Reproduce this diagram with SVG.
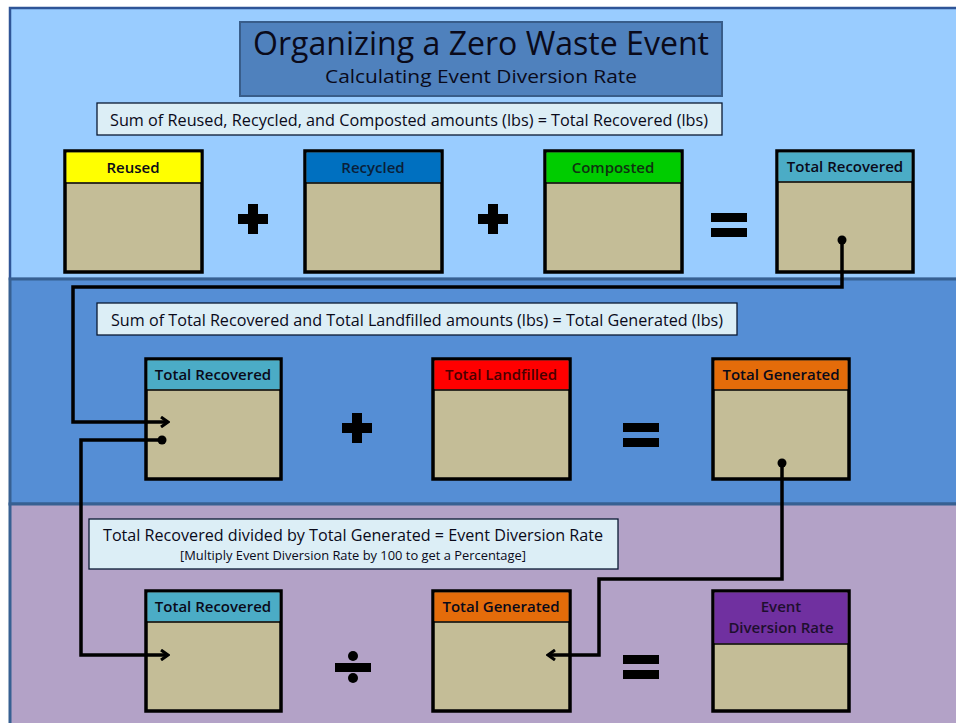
<svg xmlns="http://www.w3.org/2000/svg" width="956" height="723" viewBox="0 0 956 723">
<style>
text{font-family:"Open Sans","Liberation Sans",sans-serif;fill:#0a0a1a}
.hdr{font-size:15px;text-anchor:middle;font-weight:600}
.body{fill:#C4BD97;stroke:#000;stroke-width:3.5}
.cap{fill:#DCEEF6;stroke:#0a1a33;stroke-width:1.3}
.op{fill:#000}
.conn{fill:none;stroke:#000;stroke-width:3.5;stroke-linejoin:miter}
</style>
<defs>
<marker id="arr" markerWidth="10" markerHeight="12" refX="8" refY="6" orient="auto" markerUnits="userSpaceOnUse">
<path d="M1,1 L8,6 L1,11" fill="none" stroke="#000" stroke-width="3"/>
</marker>
</defs>
<rect x="0" y="0" width="956" height="723" fill="#ffffff"/>
<!-- bands -->
<rect x="10" y="8" width="950" height="271" fill="#99CCFF" stroke="#2F5597" stroke-width="2.5"/>
<rect x="10" y="279" width="950" height="225" fill="#558ED5" stroke="#376092" stroke-width="3"/>
<rect x="10" y="504" width="950" height="225" fill="#B3A2C7" stroke="#376092" stroke-width="3"/>
<!-- title -->
<g id="title">
<rect x="240" y="22" width="482" height="74" fill="#4F81BD" stroke="#385D8A" stroke-width="2"/>
<text x="481" y="55" font-size="32" text-anchor="middle" textLength="456" lengthAdjust="spacingAndGlyphs">Organizing a Zero Waste Event</text>
<text x="481" y="83" font-size="19" text-anchor="middle" textLength="312" lengthAdjust="spacingAndGlyphs">Calculating Event Diversion Rate</text>
</g>
<!-- captions -->
<g id="cap1">
<rect class="cap" x="97" y="103" width="625" height="32"/>
<text x="409" y="126" font-size="17" text-anchor="middle" textLength="598" lengthAdjust="spacingAndGlyphs">Sum of Reused, Recycled, and Composted amounts (lbs) = Total Recovered (lbs)</text>
</g>
<g id="cap2">
<rect class="cap" x="97" y="303" width="640" height="32"/>
<text x="417" y="326" font-size="17" text-anchor="middle" textLength="612" lengthAdjust="spacingAndGlyphs">Sum of Total Recovered and Total Landfilled amounts (lbs) = Total Generated (lbs)</text>
</g>
<g id="cap3">
<rect class="cap" x="89" y="519" width="529" height="50"/>
<text x="353" y="541" font-size="17" text-anchor="middle" textLength="500" lengthAdjust="spacingAndGlyphs">Total Recovered divided by Total Generated = Event Diversion Rate</text>
<text x="353" y="560" font-size="12.5" text-anchor="middle" textLength="346" lengthAdjust="spacingAndGlyphs">[Multiply Event Diversion Rate by 100 to get a Percentage]</text>
</g>
<!-- row 1 -->
<g id="reused">
<rect class="body" x="65" y="151" width="137" height="121"/>
<rect x="66.5" y="152.5" width="134" height="30" fill="#FFFF00"/>
<line x1="65" y1="183" x2="202" y2="183" stroke="#000" stroke-width="1.5"/>
<text class="hdr" x="133" y="173">Reused</text>
</g>
<g id="recycled">
<rect class="body" x="305" y="151" width="137" height="121"/>
<rect x="306.5" y="152.5" width="134" height="30" fill="#0070C0"/>
<line x1="305" y1="183" x2="442" y2="183" stroke="#000" stroke-width="1.5"/>
<text class="hdr" x="373" y="173" style="fill:#0a1f3a">Recycled</text>
</g>
<g id="composted">
<rect class="body" x="545" y="151" width="137" height="121"/>
<rect x="546.5" y="152.5" width="134" height="30" fill="#00CC00"/>
<line x1="545" y1="183" x2="682" y2="183" stroke="#000" stroke-width="1.5"/>
<text class="hdr" x="613" y="173" style="fill:#0f3310">Composted</text>
</g>
<g id="totalRecovered1">
<rect class="body" x="777" y="151" width="136" height="121"/>
<rect x="778.5" y="152.5" width="133" height="29" fill="#4BACC6"/>
<line x1="777" y1="182" x2="913" y2="182" stroke="#000" stroke-width="1.5"/>
<text class="hdr" x="845" y="172">Total Recovered</text>
</g>
<!-- row 2 -->
<g id="totalRecovered2">
<rect class="body" x="146" y="359" width="135" height="120"/>
<rect x="147.5" y="360.5" width="132" height="29" fill="#4BACC6"/>
<line x1="146" y1="390" x2="281" y2="390" stroke="#000" stroke-width="1.5"/>
<text class="hdr" x="213" y="380">Total Recovered</text>
</g>
<g id="totalLandfilled">
<rect class="body" x="433" y="359" width="137" height="120"/>
<rect x="434.5" y="360.5" width="134" height="29" fill="#FF0000"/>
<line x1="433" y1="390" x2="570" y2="390" stroke="#000" stroke-width="1.5"/>
<text class="hdr" x="501" y="380" style="fill:#4a0000">Total Landfilled</text>
</g>
<g id="totalGenerated2">
<rect class="body" x="713" y="359" width="136" height="120"/>
<rect x="714.5" y="360.5" width="133" height="29" fill="#E46C0A"/>
<line x1="713" y1="390" x2="849" y2="390" stroke="#000" stroke-width="1.5"/>
<text class="hdr" x="781" y="380">Total Generated</text>
</g>
<!-- row 3 -->
<g id="totalRecovered3">
<rect class="body" x="146" y="591" width="135" height="120"/>
<rect x="147.5" y="592.5" width="132" height="29" fill="#4BACC6"/>
<line x1="146" y1="622" x2="281" y2="622" stroke="#000" stroke-width="1.5"/>
<text class="hdr" x="213" y="612">Total Recovered</text>
</g>
<g id="totalGenerated3">
<rect class="body" x="433" y="591" width="137" height="120"/>
<rect x="434.5" y="592.5" width="134" height="29" fill="#E46C0A"/>
<line x1="433" y1="622" x2="570" y2="622" stroke="#000" stroke-width="1.5"/>
<text class="hdr" x="501" y="612">Total Generated</text>
</g>
<g id="eventDiversionRate">
<rect class="body" x="713" y="591" width="136" height="120"/>
<rect x="714.5" y="592.5" width="133" height="51" fill="#7030A0"/>
<line x1="713" y1="644" x2="849" y2="644" stroke="#000" stroke-width="1.5"/>
<text class="hdr" x="781" y="612" style="fill:#1e0f2e">Event</text>
<text class="hdr" x="781" y="633" style="fill:#1e0f2e">Diversion Rate</text>
</g>
<!-- operators -->
<g id="ops">
<path class="op" d="M248,204 h10 v10 h10 v10 h-10 v10 h-10 v-10 h-10 v-10 h10 z"/>
<path class="op" d="M488,204 h10 v10 h10 v10 h-10 v10 h-10 v-10 h-10 v-10 h10 z"/>
<rect class="op" x="711" y="213" width="36" height="9"/>
<rect class="op" x="711" y="228" width="36" height="9"/>
<path class="op" d="M352,413 h10 v10 h10 v10 h-10 v10 h-10 v-10 h-10 v-10 h10 z"/>
<rect class="op" x="623" y="423" width="36" height="9"/>
<rect class="op" x="623" y="438" width="36" height="9"/>
<rect class="op" x="335" y="663" width="36" height="9"/>
<circle class="op" cx="353" cy="656" r="5"/>
<circle class="op" cx="353" cy="678" r="5"/>
<rect class="op" x="623" y="655" width="36" height="9"/>
<rect class="op" x="623" y="670" width="36" height="9"/>
</g>
<!-- connectors -->
<g id="connectors">
<circle cx="842" cy="240" r="4.5" fill="#000"/>
<polyline class="conn" points="842,240 842,287 73,287 73,422 168,422" marker-end="url(#arr)"/>
<circle cx="162" cy="440" r="4.5" fill="#000"/>
<polyline class="conn" points="162,440 81,440 81,655 168,655" marker-end="url(#arr)"/>
<circle cx="782" cy="463" r="4.5" fill="#000"/>
<polyline class="conn" points="782,463 782,579 599,579 599,655 548,655" marker-end="url(#arr)"/>
</g>
</svg>
